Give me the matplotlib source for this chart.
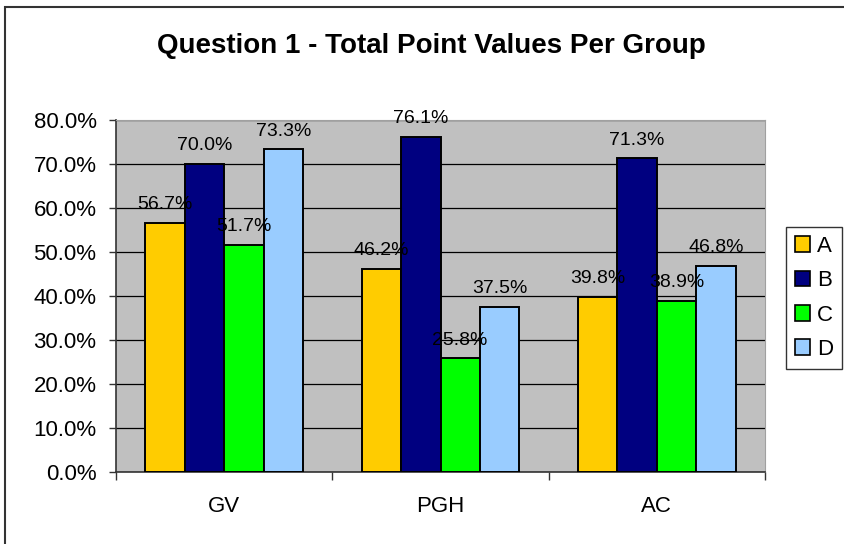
import matplotlib.pyplot as plt
from matplotlib.patches import Rectangle, Patch
import numpy as np

plt.rcParams['font.family'] = ['Liberation Sans', 'DejaVu Sans']

# data
groups = ["GV", "PGH", "AC"]
series = ["A", "B", "C", "D"]
vals_a = [56.7, 46.2, 39.8]
vals_b = [70.0, 76.1, 71.3]
vals_c = [51.7, 25.8, 38.9]
vals_d = [73.3, 37.5, 46.8]
colors = ["#FFCC00", "#000080", "#00FF00", "#99CCFF"]

fig = plt.figure(figsize=(8.44, 5.44), dpi=100)
ax = fig.add_axes([116/844, 72/544, 649/844, 352/544])
ax.set_facecolor("#C0C0C0")

x = np.arange(len(groups))
w = 0.182
for i, vals in enumerate([vals_a, vals_b, vals_c, vals_d]):
    bars = ax.bar(x + (i - 1.5) * w, vals, w, color=colors[i],
                  edgecolor="black", linewidth=1.4, zorder=3)
    for b, v in zip(bars, vals):
        ax.annotate("%.1f%%" % v, (b.get_x() + b.get_width() / 2, v),
                    xytext=(0, 7), textcoords="offset points",
                    ha="center", va="bottom", fontsize=14, zorder=4)

ax.set_ylim(0, 80)
ax.set_xlim(-0.5, 2.5)
ax.set_yticks(np.arange(0, 81, 10))
ax.set_yticklabels(["%.1f%%" % t for t in np.arange(0, 81, 10)], fontsize=16)
ax.yaxis.grid(True, color="black", linewidth=0.9, zorder=1)
ax.set_axisbelow(True)
ax.tick_params(axis="y", length=5, width=1, pad=9, color="#333333")

ax.set_xticks(x)
ax.set_xticklabels(groups, fontsize=16)
ax.set_xticks([-0.5, 0.5, 1.5, 2.5], minor=True)
ax.tick_params(axis="x", which="major", length=0, pad=17)
ax.tick_params(axis="x", which="minor", length=6, width=1, color="#333333")

for s in ["top", "right"]:
    ax.spines[s].set_color("#A0A0A0")
for s in ["left", "bottom"]:
    ax.spines[s].set_color("#333333")
    ax.spines[s].set_linewidth(1.2)

fig.text(431/844, 1 - 46/544, "Question 1 - Total Point Values Per Group",
         ha="center", va="center", fontsize=20, fontweight="bold")

handles = [Patch(facecolor=c, edgecolor="black", linewidth=1.2) for c in colors]
leg = fig.legend(handles, series, loc="upper left",
                 bbox_to_anchor=(786/844, 1 - 227/544), fontsize=16,
                 handlelength=0.7, handleheight=0.7, handletextpad=0.3,
                 labelspacing=0.6, borderpad=0.4, borderaxespad=0,
                 fancybox=False, frameon=True)
leg.get_frame().set_edgecolor("black")
leg.get_frame().set_linewidth(1.0)

# outer chart border
fig.patches.append(Rectangle((5/844, -0.1), 1.2, 1 - 7/544 + 0.1,
                             transform=fig.transFigure, fill=False,
                             edgecolor="#333333", linewidth=1.5))

fig.savefig("out.png", dpi=100)
